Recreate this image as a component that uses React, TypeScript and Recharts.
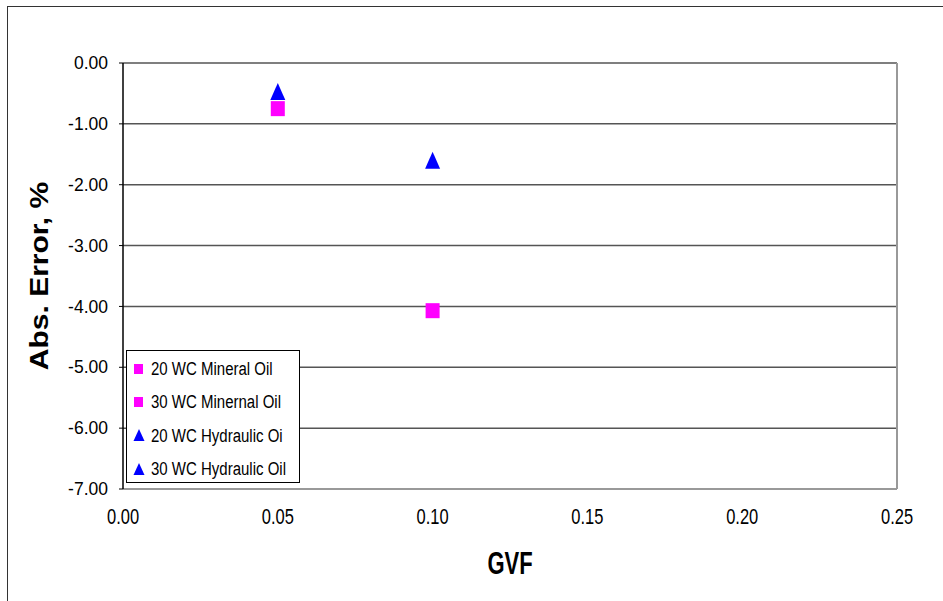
import {
  CartesianGrid,
  ReferenceLine,
  Scatter,
  ScatterChart,
  XAxis,
  YAxis,
} from "recharts";

// GVF ticks and error ticks
const xTicks = [0, 0.05, 0.1, 0.15, 0.2, 0.25];
const yTicks = [0, -1, -2, -3, -4, -5, -6, -7];

// values
const mineral20Gvf = [0.05];
const mineral20Err = [-0.75];
const mineral30Gvf = [0.1];
const mineral30Err = [-4.07];
const hydraulic20Gvf = [0.05];
const hydraulic20Err = [-0.47];
const hydraulic30Gvf = [0.1];
const hydraulic30Err = [-1.6];

const seriesNames = [
  "20 WC Mineral Oil",
  "30 WC Minernal Oil",
  "20 WC Hydraulic Oi",
  "30 WC Hydraulic Oil",
];

const PINK = "#FF00FF";
const BLUE = "#0000FF";
const FONT = "'Liberation Sans', Arial, sans-serif";

function toPoints(xs: number[], ys: number[]) {
  return xs.map((x, i) => ({ x, y: ys[i] }));
}

const series = [
  { name: seriesNames[0], data: toPoints(mineral20Gvf, mineral20Err), color: PINK, kind: "square" },
  { name: seriesNames[1], data: toPoints(mineral30Gvf, mineral30Err), color: PINK, kind: "square" },
  { name: seriesNames[2], data: toPoints(hydraulic20Gvf, hydraulic20Err), color: BLUE, kind: "triangle" },
  { name: seriesNames[3], data: toPoints(hydraulic30Gvf, hydraulic30Err), color: BLUE, kind: "triangle" },
];

function SquareMark(props: any) {
  const { cx, cy, fill } = props;
  return <rect x={cx - 7} y={cy - 7.5} width={14} height={15} fill={fill} />;
}

function TriangleMark(props: any) {
  const { cx, cy, fill } = props;
  return (
    <polygon
      points={`${cx},${cy - 8.5} ${cx + 7.5},${cy + 8.5} ${cx - 7.5},${cy + 8.5}`}
      fill={fill}
    />
  );
}

function XTick(props: any) {
  const { x, y, payload } = props;
  return (
    <g transform={`translate(${x},${y + 27}) scale(1,1.35)`}>
      <text x={0} y={0} textAnchor="middle" fill="#000" fontSize={16.5} fontFamily={FONT}>
        {Number(payload.value).toFixed(2)}
      </text>
    </g>
  );
}

// legend box sits inside the plot, bottom-left (drawn as html on top of the chart)
function LegendBox() {
  return (
    <div
      style={{
        position: "absolute",
        left: 126,
        top: 350,
        width: 174,
        height: 133,
        boxSizing: "border-box",
        border: "1px solid #000",
        background: "#fff",
        paddingTop: 1,
        fontFamily: FONT,
        fontSize: 15,
        color: "#000",
      }}
    >
      {series.map((s) => (
        <div
          key={s.name}
          style={{ height: 33.3, display: "flex", alignItems: "center", whiteSpace: "nowrap" }}
        >
          <svg width={24} height={14} style={{ flex: "none" }}>
            {s.kind === "square" ? (
              <rect x={7} y={2} width={9} height={10} fill={s.color} />
            ) : (
              <polygon points="12,1 17.5,13 6.5,13" fill={s.color} />
            )}
          </svg>
          <span style={{ display: "inline-block", transform: "scaleY(1.2)" }}>{s.name}</span>
        </div>
      ))}
    </div>
  );
}

export default function App() {
  return (
    <div
      style={{
        position: "absolute",
        left: 0,
        top: 0,
        width: 943,
        height: 601,
        overflow: "hidden",
        background: "#fff",
      }}
    >
      <div
        style={{
          position: "absolute",
          left: 7,
          top: 6,
          width: 1000,
          height: 700,
          borderLeft: "1.5px solid #333",
          borderTop: "1.5px solid #333",
        }}
      />
      <ScatterChart
        width={943}
        height={601}
        margin={{ top: 63, right: 46, bottom: 72, left: 23 }}
      >
        <CartesianGrid vertical={false} stroke="#555" strokeWidth={1.5} />
        <XAxis
          type="number"
          dataKey="x"
          domain={[0, 0.25]}
          ticks={xTicks}
          height={40}
          tickLine={false}
          axisLine={{ stroke: "#999", strokeWidth: 2 }}
          tick={<XTick />}
          interval={0}
          label={(p: any) => (
            <g transform={`translate(${p.viewBox.x + p.viewBox.width / 2},574) scale(1,1.45)`}>
              <text x={0} y={0} textAnchor="middle" fontSize={22} fontWeight="bold" fontFamily={FONT} fill="#000">
                GVF
              </text>
            </g>
          )}
        />
        <YAxis
          type="number"
          dataKey="y"
          domain={[-7, 0]}
          ticks={yTicks}
          width={100}
          tickSize={4}
          tickMargin={11}
          interval={0}
          axisLine={{ stroke: "#000", strokeWidth: 1.5 }}
          tickLine={{ stroke: "#000" }}
          tick={{ fill: "#000", fontSize: 17.5, fontFamily: FONT }}
          tickFormatter={(v: number) => v.toFixed(2)}
          label={(p: any) => (
            <g transform={`translate(39,${p.viewBox.y + p.viewBox.height / 2}) rotate(-90) scale(1.2,1)`}>
              <text
                x={0}
                y={0}
                textAnchor="middle"
                dominantBaseline="central"
                fontSize={25}
                fontWeight="bold"
                fontFamily={FONT}
                fill="#000"
              >
                Abs. Error, %
              </text>
            </g>
          )}
        />
        <ReferenceLine x={0.25} stroke="#999" strokeWidth={2} />
        {series.map((s) => (
          <Scatter
            key={s.name}
            name={s.name}
            data={s.data}
            fill={s.color}
            shape={s.kind === "square" ? <SquareMark /> : <TriangleMark />}
            isAnimationActive={false}
          />
        ))}
      </ScatterChart>
      <LegendBox />
    </div>
  );
}
